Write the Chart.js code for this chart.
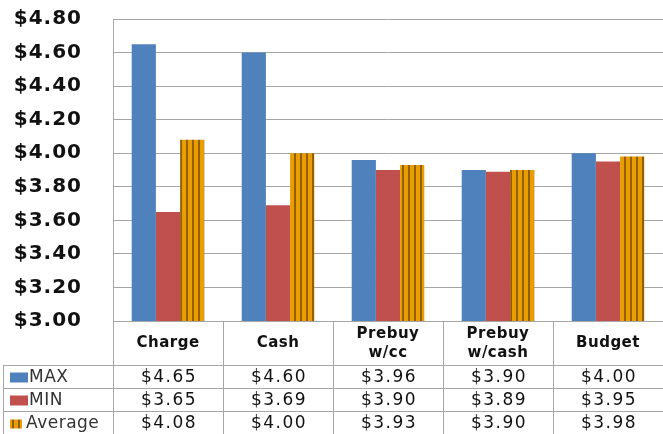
<!DOCTYPE html>
<html>
<head>
<meta charset="utf-8">
<script src="https://cdn.jsdelivr.net/npm/chart.js@4"></script>
<style>
  html, body { margin: 0; padding: 0; background: #fff; }
  canvas { display: block; }
</style>
</head>
<body>
<canvas id="priceChart" width="663" height="434"></canvas>
<script>
const categories = [['Charge'], ['Cash'], ['Prebuy', 'w/cc'], ['Prebuy', 'w/cash'], ['Budget']];
const maxPrices = [4.65, 4.60, 3.96, 3.90, 4.00];
const minPrices = [3.65, 3.69, 3.90, 3.89, 3.95];
const avgPrices = [4.08, 4.00, 3.93, 3.90, 3.98];
const seriesNames = ['MAX', 'MIN', 'Average'];

const canvas = document.getElementById('priceChart');
const ctx = canvas.getContext('2d');

// vertical striped fill for the Average bars
function stripePattern(bg, fg, size) {
    const c = document.createElement('canvas');
    c.width = size;
    c.height = size;
    const g = c.getContext('2d');
    g.fillStyle = bg;
    g.fillRect(0, 0, size, size);
    g.fillStyle = fg;
    g.fillRect(0, 0, 2, size);
    return ctx.createPattern(c, 'repeat');
}
const avgFill = stripePattern('#E89E00', '#945F00', 6);

const fmt = v => '$' + v.toFixed(2);
const lineColor = '#A6A6A6';

const tablePlugin = {
    id: 'dataTable',
    beforeDraw(chart) {
        chart.ctx.letterSpacing = '1px';
    },
    afterDraw(chart) {
        const c = chart.ctx;
        const area = chart.chartArea;
        const colW = (area.right - area.left) / categories.length;
        const headerBottom = area.bottom + 44;
        const rowH = 23;
        const tableLeft = 3;
        const bottom = chart.height;

        c.save();
        c.strokeStyle = lineColor;
        c.lineWidth = 1;
        c.beginPath();
        // column lines
        for (let i = 0; i <= categories.length; i++) {
            const x = Math.round(area.left + i * colW) + 0.5;
            c.moveTo(x, area.bottom);
            c.lineTo(x, bottom);
        }
        c.moveTo(tableLeft + 0.5, headerBottom);
        c.lineTo(tableLeft + 0.5, bottom);
        // row lines
        c.moveTo(area.left, Math.round(area.bottom) + 0.5);
        c.lineTo(area.right, Math.round(area.bottom) + 0.5);
        for (let r = 0; r < seriesNames.length; r++) {
            const y = Math.round(headerBottom + r * rowH) + 0.5;
            c.moveTo(tableLeft, y);
            c.lineTo(area.right, y);
        }
        c.stroke();

        // category header
        c.fillStyle = '#111';
        c.textAlign = 'center';
        c.textBaseline = 'middle';
        c.font = 'bold 15px "DejaVu Sans"';
        c.letterSpacing = '0.5px';
        const headMid = (area.bottom + headerBottom) / 2;
        categories.forEach((lines, i) => {
            const cx = area.left + (i + 0.5) * colW;
            if (lines.length === 1) {
                c.fillText(lines[0], cx, headMid);
            } else {
                c.fillText(lines[0], cx, headMid - 9);
                c.fillText(lines[1], cx, headMid + 10);
            }
        });

        // series rows
        chart.data.datasets.forEach((ds, r) => {
            const cy = headerBottom + r * rowH + rowH / 2 + 1;
            // legend key
            c.fillStyle = ds.backgroundColor;
            if (r === 2) {
                c.fillRect(10, cy - 4, 12, 9);
            } else {
                c.fillRect(10, cy - 5, 18, 10);
            }
            c.fillStyle = '#333';
            c.textAlign = 'left';
            c.font = '17px "DejaVu Sans"';
            c.letterSpacing = '0.5px';
            c.fillText(ds.label, r === 2 ? 26 : 29, cy);
            // values
            c.fillStyle = '#111';
            c.textAlign = 'center';
            c.letterSpacing = '1.5px';
            ds.data.forEach((v, i) => {
                const cx = area.left + (i + 0.5) * colW + 1;
                c.fillText(fmt(v), cx, cy);
            });
        });
        c.restore();
    }
};

new Chart(ctx, {
    type: 'bar',
    data: {
        labels: categories.map(l => l.join(' ')),
        datasets: [
            { label: seriesNames[0], data: maxPrices, backgroundColor: '#4F81BD' },
            { label: seriesNames[1], data: minPrices, backgroundColor: '#C0504D' },
            { label: seriesNames[2], data: avgPrices, backgroundColor: avgFill },
        ],
    },
    options: {
        responsive: false,
        animation: false,
        devicePixelRatio: 1,
        layout: {
            padding: { top: 19, bottom: 113, left: 0, right: 0 }
        },
        datasets: {
            bar: {
                categoryPercentage: 0.66,
                barPercentage: 1.0,
                borderWidth: 0
            }
        },
        plugins: {
            legend: { display: false },
            tooltip: { enabled: false },
            title: { display: false }
        },
        scales: {
            x: {
                display: false
            },
            y: {
                min: 3.0,
                max: 4.8,
                ticks: {
                    stepSize: 0.2,
                    padding: 31,
                    color: '#111',
                    font: { family: 'DejaVu Sans', size: 20, weight: 'bold' },
                    callback: v => fmt(v)
                },
                grid: {
                    color: lineColor,
                    drawTicks: false
                },
                border: {
                    display: true,
                    color: lineColor
                },
                afterFit(scale) {
                    scale.width = 113;
                    scale.paddingTop = 0;
                    scale.paddingBottom = 0;
                }
            }
        }
    },
    plugins: [tablePlugin]
});
</script>
</body>
</html>
